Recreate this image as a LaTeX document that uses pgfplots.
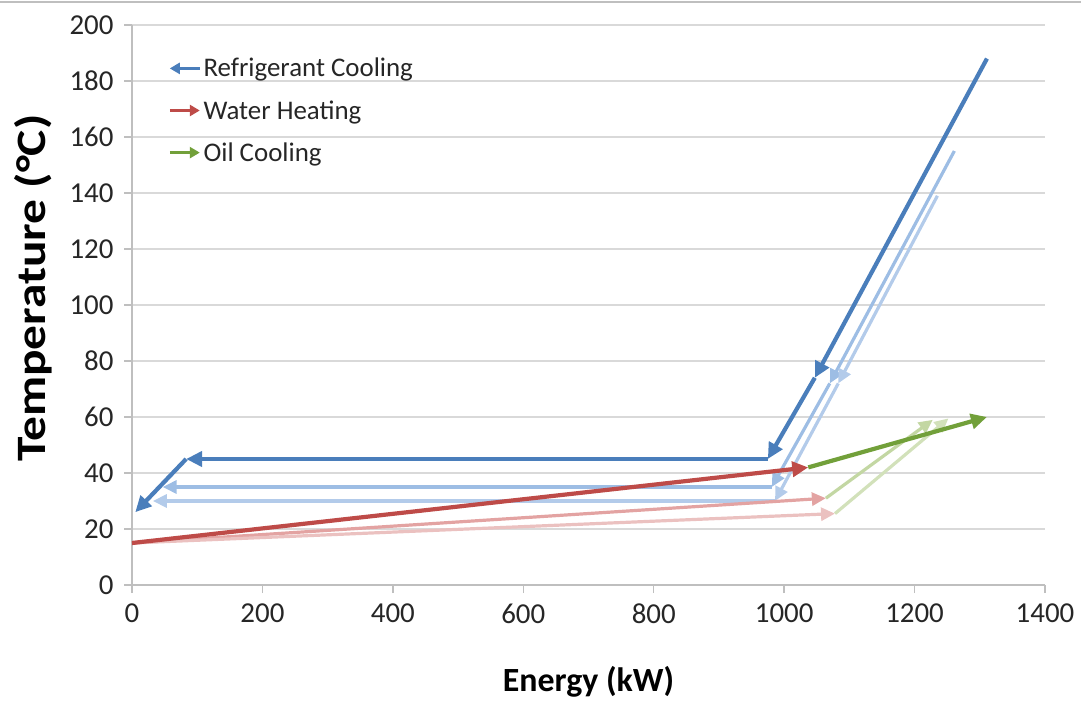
\documentclass[border=0pt]{standalone}
\usepackage{fontspec}
\setmainfont{Carlito}
\usepackage{pgfplots}
\pgfplotsset{compat=1.18}
\usetikzlibrary{arrows.meta}
\definecolor{rblue}{HTML}{4A7EBB}
\definecolor{lblue1}{HTML}{9DBDE4}
\definecolor{lblue2}{HTML}{B3CBEA}
\definecolor{rred}{HTML}{BE4B48}
\definecolor{lred1}{HTML}{E3A3A2}
\definecolor{lred2}{HTML}{EBC1C0}
\definecolor{rgreen}{HTML}{72A03A}
\definecolor{lgreen1}{HTML}{C3D7A3}
\definecolor{lgreen2}{HTML}{D2E1BA}
\definecolor{gridgray}{HTML}{D9D9D9}
\definecolor{axgray}{HTML}{BFBFBF}
\begin{document}
\begin{tikzpicture}
\pgfplotsset{
  seg/.style={mark=none, forget plot, line width=4.2bp, -{Triangle[length=16bp,width=15bp]}},
  lseg/.style={mark=none, forget plot, line width=3.2bp, -{Triangle[length=14bp,width=13bp]}},
}
\begin{axis}[
  scale only axis, width=913bp, height=560bp,
  xmin=0, xmax=1400, ymin=0, ymax=200,
  xtick={0,200,...,1400}, ytick={0,20,...,200},
  axis x line*=bottom, axis y line*=left,
  axis line style={draw=axgray, line width=1.5bp},
  tick align=outside, major tick length=8bp,
  tick style={draw=axgray, line width=1.5bp},
  ymajorgrids, grid style={draw=gridgray, line width=1.6bp},
  tick label style={font=\fontsize{29}{29}\selectfont, text=black!85},
  /pgf/number format/assume math mode=true,
  /pgf/number format/set thousands separator={},
  xticklabel style={yshift=-7bp},
  yticklabel style={xshift=-7bp},
  xlabel={\textbf{Energy (kW)}},
  ylabel={\scalebox{1.18}[1]{\textbf{Temperature (°C)}}},
  xlabel style={font=\fontsize{34}{34}\selectfont, at={(axis description cs:0.5,-0.191)}, anchor=base},
  ylabel style={font=\fontsize{42}{42}\selectfont, at={(axis description cs:-0.108,0.53)}, anchor=center, rotate=0},
  legend style={draw=none, fill=none, at={(axis description cs:0.036,0.948)}, anchor=north west,
    font=\fontsize{27}{32}\selectfont, row sep=18bp, text=black!85},
  legend cell align=left,
]
\addlegendimage{legend image code/.code={\draw[rblue, line width=3.5bp, {Triangle[length=10bp,width=11bp]}-] (0bp,0bp) -- (30bp,0bp);}}
\addlegendentry{Refrigerant Cooling}
\addlegendimage{legend image code/.code={\draw[rred, line width=3.5bp, -{Triangle[length=10bp,width=11bp]}] (0bp,0bp) -- (30bp,0bp);}}
\addlegendentry{Water Heating}
\addlegendimage{legend image code/.code={\draw[rgreen, line width=3.5bp, -{Triangle[length=10bp,width=11bp]}] (0bp,0bp) -- (30bp,0bp);}}
\addlegendentry{Oil Cooling}

% light refrigerant curves
\addplot[lseg, lblue1] coordinates {(1261,155) (1070,72)};
\addplot[lseg, lblue1] coordinates {(1070,72) (981,35)};
\addplot[lseg, lblue1] coordinates {(981,35) (47,35)};
\addplot[lseg, lblue2] coordinates {(1235,139) (1083,72)};
\addplot[lseg, lblue2] coordinates {(1083,72) (986,30)};
\addplot[lseg, lblue2] coordinates {(986,30) (32,30)};
% light water heating
\addplot[lseg, lred1] coordinates {(0,15) (1064,31)};
\addplot[lseg, lred2] coordinates {(0,15) (1078,25.5)};
% light oil cooling
\addplot[lseg, lgreen1] coordinates {(1064,31) (1228,59)};
\addplot[lseg, lgreen2] coordinates {(1078,25.5) (1252,59.5)};

% dark refrigerant
\addplot[seg, rblue] coordinates {(1311,188) (1047,74)};
\addplot[seg, rblue] coordinates {(1047,74) (975,45)};
\addplot[seg, rblue] coordinates {(975,45) (83,45)};
\addplot[seg, rblue] coordinates {(83,45) (5,26)};
% dark water heating
\addplot[seg, rred] coordinates {(0,15) (1037,42)};
% dark oil cooling
\addplot[seg, rgreen] coordinates {(1037,42) (1311,60)};
\end{axis}
\path[use as bounding box] (-132bp,-117bp) rectangle (949bp,585bp);
\draw[axgray, line width=2.5bp] (-132bp,583bp) -- (949bp,583bp);
\end{tikzpicture}
\end{document}
